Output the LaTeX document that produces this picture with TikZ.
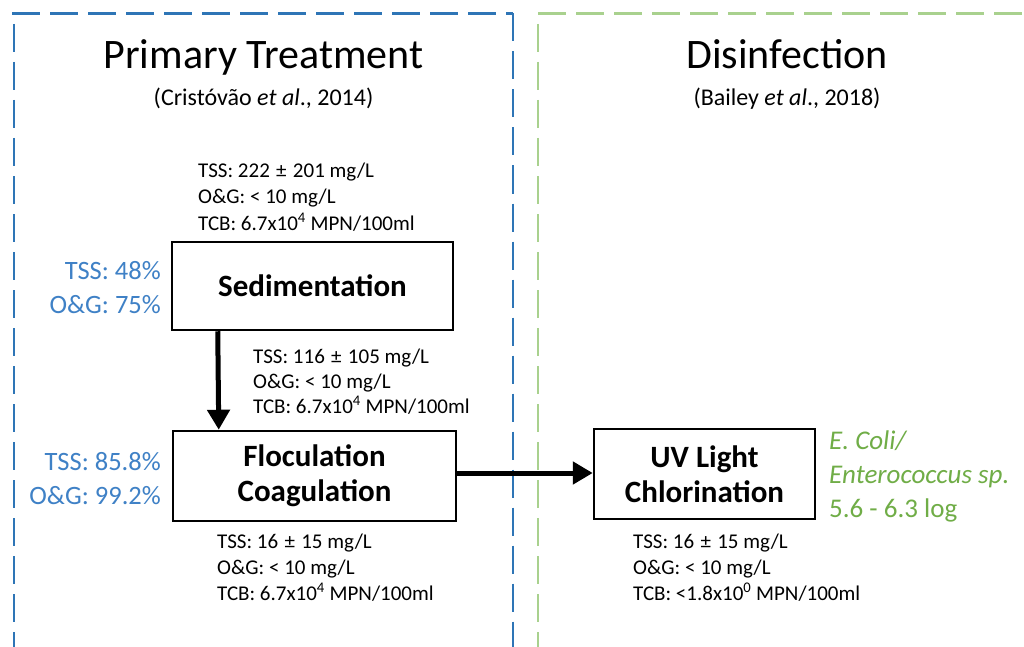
\documentclass[tikz,border=0pt]{standalone}
\usepackage{fontspec}
\setmainfont{Carlito}
\usetikzlibrary{arrows.meta}
\definecolor{pblue}{HTML}{2E75B6}
\definecolor{tblue}{HTML}{3F81C6}
\definecolor{pgreen}{HTML}{A9D18E}
\definecolor{tgreen}{HTML}{70AD47}
\newcommand{\plusminus}{\hspace{0.3em}±\hspace{0.3em}}
\tikzset{
  bluedash/.style={draw=pblue, line width=2.5pt, dash pattern=on 28pt off 10pt},
  greendash/.style={draw=pgreen, line width=2.5pt, dash pattern=on 28pt off 10pt},
  procbox/.style={draw=black, line width=2.5pt, fill=white, align=center, inner sep=0pt,
    font=\fontsize{31}{35}\selectfont\bfseries},
  databox/.style={align=left, anchor=base west, inner sep=0pt, font=\fontsize{21}{26.5}\selectfont},
  effblue/.style={align=right, anchor=base east, inner sep=0pt, text=tblue, font=\fontsize{26.5}{34}\selectfont},
  effgreen/.style={align=left, anchor=base west, inner sep=0pt, text=tgreen, font=\fontsize{27}{34}\selectfont},
  title/.style={anchor=base, inner sep=0pt, font=\fontsize{42}{48}\selectfont},
  subtitle/.style={anchor=base, inner sep=0pt, font=\fontsize{24}{28}\selectfont},
  flow/.style={line width=5pt, -{Triangle[length=20pt,width=22pt]}}
}
\begin{document}
\begin{tikzpicture}[x=1pt,y=-1pt]
\useasboundingbox[fill=white] (0,0) rectangle (1024,647);

% region frames
\coordinate (bTL) at (12,13.5);
\coordinate (bTR) at (513,13.5);
\coordinate (bL0) at (14,24);
\coordinate (bLB) at (14,647);
\coordinate (bRB) at (513,647);
\draw[bluedash] (bTL) -- (bTR);
\draw[bluedash] (bL0) -- (bLB);
\draw[bluedash] (bTR) -- (bRB);
\coordinate (gTL) at (538,13.5);
\coordinate (gTR) at (1030,13.5);
\coordinate (gL0) at (538,24);
\coordinate (gLB) at (538,647);
\draw[greendash] (gTL) -- (gTR);
\draw[greendash] (gL0) -- (gLB);

% titles
\node[title] (t1) at (263.5,69) {Primary Treatment};
\node[subtitle] (s1) at (263.5,106) {(Cristóvão \textit{et al}., 2014)};
\node[title] (t2) at (787,69) {Disinfection};
\node[subtitle] (s2) at (787,106) {(Bailey \textit{et al}., 2018)};

% process boxes
\node[procbox, minimum width=281pt, minimum height=88pt] (sed) at (312.5,286) {Sedimentation};
\node[procbox, minimum width=283pt, minimum height=90pt] (floc) at (314.5,476) {Floculation\\Coagulation};
\node[procbox, minimum width=221pt, minimum height=90pt] (uv) at (704.5,474) {UV Light\\Chlorination};

% connectors
\draw[flow] ([xshift=47pt]sed.south west) -- ([xshift=47pt]floc.north west);
\draw[flow] (floc.east |- 0,473) -- (uv.west |- 0,473);

% data (anchored at the baseline of the last line)
\node[databox] (d1) at (198,230) {TSS: 222\plusminus201 mg/L\\O\&G: < 10 mg/L\\TCB: 6.7x10\textsuperscript{4} MPN/100ml};
\node[databox, font=\fontsize{21}{25}\selectfont] (d2) at (253,413) {TSS: 116\plusminus105 mg/L\\O\&G: < 10 mg/L\\TCB: 6.7x10\textsuperscript{4} MPN/100ml};
\node[databox, font=\fontsize{21}{26}\selectfont] (d3) at (217,600) {TSS: 16\plusminus15 mg/L\\O\&G: < 10 mg/L\\TCB: 6.7x10\textsuperscript{4} MPN/100ml};
\node[databox, font=\fontsize{21}{26}\selectfont] (d4) at (633,600) {TSS: 16\plusminus15 mg/L\\O\&G: < 10 mg/L\\TCB: <1.8x10\textsuperscript{0} MPN/100ml};

% efficiencies
\node[effblue] (e1) at (161,313) {TSS: 48\%\\O\&G: 75\%};
\node[effblue] (e2) at (161,504) {TSS: 85.8\%\\O\&G: 99.2\%};
\node[effgreen] (e3) at (829,517) {\textit{E. Coli/}\\\textit{Enterococcus sp.}\\5.6 - 6.3 log};
\end{tikzpicture}
\end{document}
